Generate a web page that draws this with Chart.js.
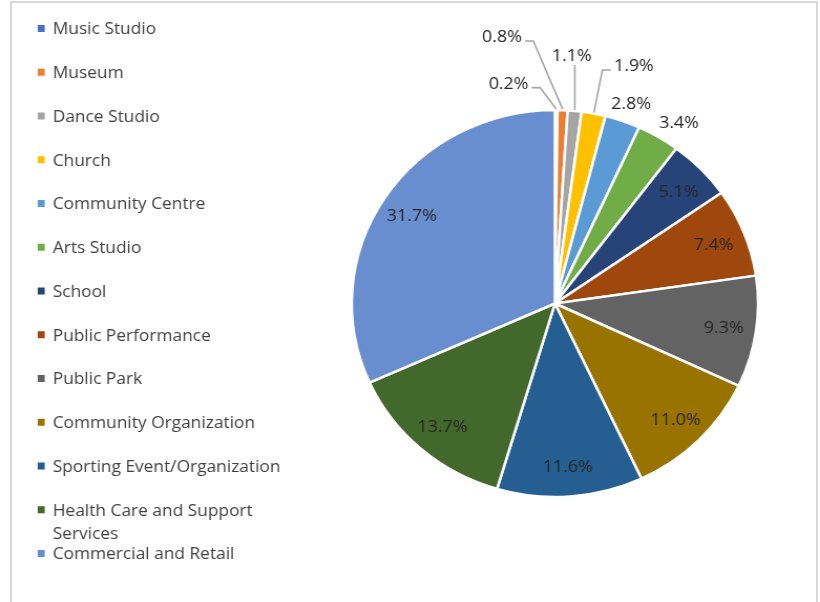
<!DOCTYPE html>
<html>
<head>
<meta charset="utf-8">
<script src="https://cdn.jsdelivr.net/npm/chart.js@4/dist/chart.umd.min.js"></script>
<style>
  html, body { margin: 0; padding: 0; background: #fff; width: 820px; height: 602px; overflow: hidden; }
  #frame { position: absolute; left: 10px; top: 1px; width: 808px; height: 700px;
           border: 2px solid #d9d9d9; box-sizing: border-box; }
  /* the chart sheet is slightly wider than tall: stretch the canvas horizontally */
  #stage { position: absolute; left: 0; top: 0; width: 781px; height: 602px;
           transform: scaleX(1.05); transform-origin: 0 0; }
</style>
</head>
<body>
<div id="frame"></div>
<div id="stage"><canvas id="chart" width="781" height="602"></canvas></div>
<script>
// Venue categories and their share of responses (%)
const categories = [
  'Music Studio', 'Museum', 'Dance Studio', 'Church', 'Community Centre',
  'Arts Studio', 'School', 'Public Performance', 'Public Park',
  'Community Organization', 'Sporting Event/Organization',
  'Health Care and Support Services', 'Commercial and Retail'
];
const shares = [0.2, 0.8, 1.1, 1.9, 2.8, 3.4, 5.1, 7.4, 9.3, 11.0, 11.6, 13.7, 31.7];
const sliceColors = [
  '#4472C4', '#ED7D31', '#A5A5A5', '#FFC000', '#5B9BD5', '#70AD47',
  '#264478', '#9E480E', '#636363', '#997300', '#255E91', '#43682B', '#698ED0'
];

const FONT = '"Open Sans", "Liberation Sans", sans-serif';

// Percentage labels: inside the slice by default; small slices get
// [angle from top in degrees, distance as multiple of radius, leader line]
const sliceLabels = {
  id: 'sliceLabels',
  afterDatasetsDraw(chart, args, opts) {
    const ctx = chart.ctx;
    const meta = chart.getDatasetMeta(0);
    const values = chart.data.datasets[0].data;
    ctx.save();
    ctx.font = opts.size + 'px ' + FONT;
    ctx.textAlign = 'center';
    ctx.textBaseline = 'alphabetic';
    const capHalf = opts.size * 0.357;
    meta.data.forEach((arc, i) => {
      const p = arc.getProps(['x', 'y', 'startAngle', 'endAngle', 'outerRadius'], true);
      const mid = (p.startAngle + p.endAngle) / 2;
      const place = opts.placement[i];
      const ang = place ? (place[0] - 90) * Math.PI / 180 : mid;
      const dist = (place ? place[1] : opts.inside) * p.outerRadius;
      const tx = p.x + Math.cos(ang) * dist;
      const ty = p.y + Math.sin(ang) * dist;
      const text = values[i].toFixed(1) + '%';
      const w = ctx.measureText(text).width;
      ctx.fillStyle = opts.color;
      ctx.fillText(text, tx, ty + capHalf);
      if (place && place[2]) {
        const ax = p.x + Math.cos(mid) * (p.outerRadius + 1);
        const ay = p.y + Math.sin(mid) * (p.outerRadius + 1);
        ctx.strokeStyle = opts.leaderColor;
        ctx.lineWidth = 1.6;
        ctx.beginPath();
        if (Math.abs(ax - tx) < w / 2) {
          ctx.moveTo(ax, ty + 10);
          ctx.lineTo(ax, ay);
        } else {
          const side = ax > tx ? 1 : -1;
          const x0 = tx + side * (w / 2 + 3);
          const y0 = ty + 5;
          ctx.moveTo(x0, y0);
          ctx.lineTo(x0 + side * 8, y0);
          ctx.lineTo(ax, ay);
        }
        ctx.stroke();
      }
    });
    ctx.restore();
  }
};

// Vertical legend on the left, wrapping long names
const sideLegend = {
  id: 'sideLegend',
  afterDraw(chart, args, opts) {
    const ctx = chart.ctx;
    const labels = chart.data.labels;
    const colors = chart.data.datasets[0].backgroundColor;
    ctx.save();
    ctx.font = opts.size + 'px ' + FONT;
    ctx.textAlign = 'left';
    ctx.textBaseline = 'alphabetic';
    const capHalf = opts.size * 0.357;
    labels.forEach((name, i) => {
      const cy = opts.top + i * opts.step;
      ctx.fillStyle = colors[i];
      ctx.fillRect(opts.left, cy - 3.5, 6.7, 7);
      // word wrap
      const words = name.split(' ');
      const lines = [];
      let line = '';
      words.forEach(wd => {
        const trial = line ? line + ' ' + wd : wd;
        if (ctx.measureText(trial).width > opts.maxWidth && line) {
          lines.push(line);
          line = wd;
        } else {
          line = trial;
        }
      });
      lines.push(line);
      ctx.fillStyle = opts.color;
      lines.forEach((ln, k) => {
        ctx.fillText(ln, opts.left + 14.3, cy + capHalf + k * opts.lineHeight);
      });
    });
    ctx.restore();
  }
};

new Chart(document.getElementById('chart'), {
  type: 'pie',
  data: {
    labels: categories,
    datasets: [{
      data: shares,
      backgroundColor: sliceColors,
      borderColor: '#ffffff',
      borderWidth: 2.5
    }]
  },
  options: {
    responsive: false,
    animation: false,
    devicePixelRatio: 1,
    radius: 193.5,
    layout: { padding: { left: 276, right: 0, top: 5, bottom: 0 } },
    plugins: {
      legend: { display: false },
      tooltip: { enabled: false },
      sliceLabels: {
        size: 17,
        color: '#262626',
        leaderColor: '#a6a6a6',
        inside: 0.84,
        placement: {
          0: [-11.3, 1.164, true],
          1: [-10.7, 1.407, true],
          2: [3.7, 1.287, true],
          3: [17.5, 1.292, true],
          4: [19.9, 1.10, false],
          5: [33.1, 1.118, false],
          6: [46.2, 0.843, false]
        }
      },
      sideLegend: {
        size: 16.5,
        color: '#404040',
        left: 35.9,
        top: 28.5,
        step: 43.75,
        lineHeight: 23,
        maxWidth: 240
      }
    }
  },
  plugins: [sliceLabels, sideLegend]
});
</script>
</body>
</html>
